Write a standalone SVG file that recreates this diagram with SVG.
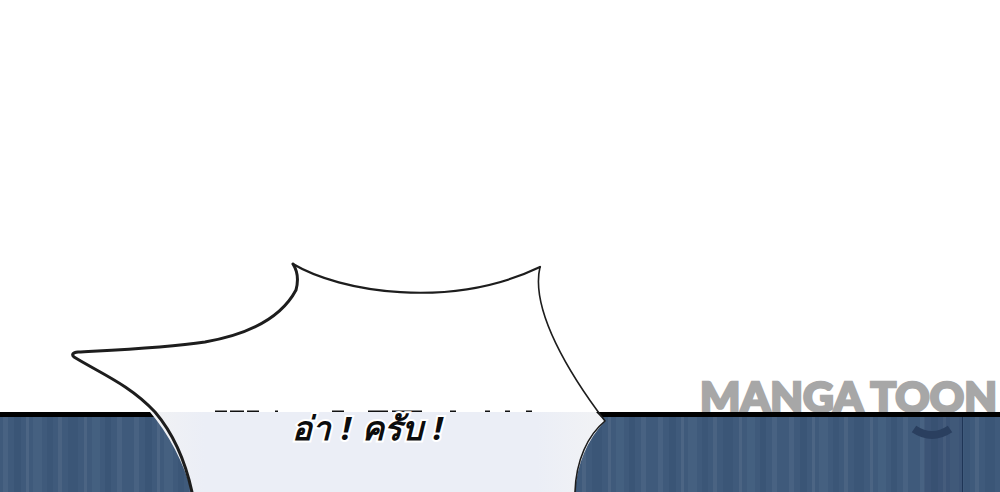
<svg xmlns="http://www.w3.org/2000/svg" width="1000" height="492" viewBox="0 0 1000 492">
<defs>
<pattern id="stripes" patternUnits="userSpaceOnUse" x="0" y="417" width="131" height="75">
<rect width="131" height="75" fill="#3f5a7b"/>
<rect x="3" width="5" height="75" fill="#486282"/>
<rect x="14" width="7" height="75" fill="#3a5576"/>
<rect x="26" width="3" height="75" fill="#4c6584"/>
<rect x="33" width="9" height="75" fill="#456080"/>
<rect x="47" width="6" height="75" fill="#3b5677"/>
<rect x="58" width="4" height="75" fill="#4a6382"/>
<rect x="68" width="10" height="75" fill="#3b5677"/>
<rect x="84" width="3" height="75" fill="#4b6483"/>
<rect x="92" width="8" height="75" fill="#446080"/>
<rect x="105" width="6" height="75" fill="#3a5576"/>
<rect x="117" width="5" height="75" fill="#486282"/>
</pattern>
<linearGradient id="bubbleFill" x1="0" y1="0" x2="1" y2="0">
<stop offset="0" stop-color="#f1f2f4"/>
<stop offset=".12" stop-color="#ebeef6"/>
<stop offset=".85" stop-color="#ebeef6"/>
<stop offset="1" stop-color="#f2f3f5"/>
</linearGradient>
<clipPath id="lowerBand"><rect x="0" y="412" width="1000" height="80"/></clipPath>
</defs>
<style>
.outline{fill:none;stroke:#1d1d1d;stroke-linecap:round;stroke-linejoin:round}
.mark{font-family:"Lato","Liberation Sans",sans-serif;font-weight:900;fill:#a7a7a7;stroke:#a7a7a7;stroke-width:2.5px}
.speech{font-family:"Noto Sans","DejaVu Sans",sans-serif;font-style:italic;font-weight:700;font-size:33px;word-spacing:2px;fill:#0c0c0c;stroke:#fff;stroke-width:4px;paint-order:stroke}
</style>
<rect id="background" width="1000" height="492" fill="#fff"/>
<g id="watermark"><text class="mark" x="700" y="412" font-size="41" textLength="297" lengthAdjust="spacingAndGlyphs">MANGA TOON</text></g>
<g id="band">
<rect x="0" y="412" width="1000" height="5" fill="#000"/>
<rect x="0" y="417" width="1000" height="75" fill="url(#stripes)"/>
<rect x="924" y="417" width="38" height="75" fill="#34496a" opacity=".3"/>
<rect x="962" y="417" width="1" height="75" fill="#1f3556"/>
<path d="M914 429Q932 441 950 429" fill="none" stroke="#2a3f5f" stroke-width="8"/>
</g>
<g id="bubble">
<path clip-path="url(#lowerBand)" d="M150 412Q178 445 192 492L575 492Q578 450 605 421L596 412Z" fill="url(#bubbleFill)"/>
<path class="outline" stroke-width="3" d="M293 264Q300 275 296 290C280 320 245 335 205 342C165 348 115 350 78 352Q70 353 74 357C100 373 130 385 155 412C172 432 185 460 192 492"/>
<path class="outline" stroke-width="2.2" d="M293 264C340 292 450 310 540 267"/>
<path class="outline" stroke-width="1.6" d="M540 267C530 310 570 375 605 421C588 435 576 460 575 492"/>
</g>
<g id="cut-off-line" fill="#111">
<rect x="215" y="410.500" width="12" height="1.500"/>
<rect x="230" y="410.500" width="14" height="1.500"/>
<rect x="247" y="410.500" width="12" height="1.500"/>
<rect x="275" y="410.500" width="3" height="1.500"/>
<rect x="332" y="410.500" width="12" height="1.500"/>
<rect x="368" y="410.500" width="20" height="1.500"/>
<rect x="392" y="410.500" width="30" height="1.500"/>
<rect x="450" y="410.500" width="6" height="1.500"/>
<rect x="485" y="410.500" width="5" height="1.500"/>
<rect x="505" y="410.500" width="5" height="1.500"/>
<rect x="526" y="410.500" width="6" height="1.500"/>
</g>
<g id="speech"><text class="speech" x="292" y="440">อ่า ! ครับ !</text></g>
</svg>
